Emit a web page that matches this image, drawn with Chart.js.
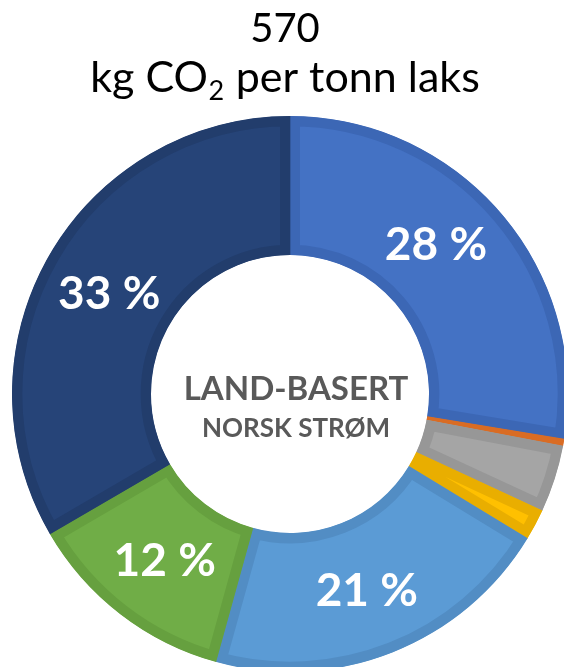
<!DOCTYPE html>
<html>
<head>
<meta charset="utf-8">
<script src="https://cdn.jsdelivr.net/npm/chart.js@4/dist/chart.umd.min.js"></script>
<style>
  html, body { margin: 0; padding: 0; background: #fff; overflow: hidden; }
  #wrap { width: 564px; height: 667px; position: relative; }
</style>
</head>
<body>
<div id="wrap"><canvas id="myCanvas" width="564" height="667"></canvas></div>
<script>
'use strict';

// shares of the footprint, clockwise from 12 o'clock (percent)
var categories = ['Blå', 'Oransje', 'Grå', 'Gul', 'Lyseblå', 'Grønn', 'Mørkeblå'];
var shares = [27.6, 0.4, 3.9, 1.8, 20.6, 12.3, 33.4];
var fillColors = ['#4472C4', '#ED7D31', '#A5A5A5', '#FFC000', '#5B9BD5', '#70AD47', '#264478'];
var edgeColors = ['#3C67B5', '#D96C24', '#979797', '#E9AE00', '#528DC4', '#66A03F', '#223D6C'];

var titleTop = '570';
var titleUnit = ['kg CO', '2', ' per tonn laks'];
var centerLines = ['LAND-BASERT', 'NORSK STRØM'];

var FONT = 'Lato, "Open Sans", sans-serif';

// show rounded percent on the big slices only
var sliceLabels = shares.map(function (v) {
    return v >= 5 ? Math.round(v) + ' %' : '';
});
// small nudges for label placement (px)
var labelNudge = [[-13, -14], [0, 0], [0, 0], [0, 0], [0, 3], [2, 2], [0, 4]];

var textPlugin = {
    id: 'texts',
    afterDatasetsDraw: function (chart) {
        var ctx = chart.ctx;
        var meta = chart.getDatasetMeta(0);
        ctx.save();
        ctx.fillStyle = '#fff';
        ctx.font = 'bold 46px ' + FONT;
        ctx.textAlign = 'center';
        ctx.textBaseline = 'middle';
        meta.data.forEach(function (arc, i) {
            if (!sliceLabels[i]) return;
            var p = arc.tooltipPosition(true);
            ctx.fillText(sliceLabels[i], p.x + labelNudge[i][0], p.y + labelNudge[i][1]);
        });

        // centre text
        var cx = (chart.chartArea.left + chart.chartArea.right) / 2 + 6;
        ctx.fillStyle = '#595959';
        ctx.textBaseline = 'alphabetic';
        ctx.font = 'bold 33px ' + FONT;
        ctx.fillText(centerLines[0], cx, 400);
        ctx.font = 'bold 26px ' + FONT;
        ctx.fillText(centerLines[1], cx, 437);

        // title
        var tx = 285;
        ctx.fillStyle = '#000';
        ctx.font = '40px ' + FONT;
        ctx.fillText(titleTop, tx, 42);

        var big = '43px ' + FONT, small = '27px ' + FONT;
        ctx.font = big;
        var w0 = ctx.measureText(titleUnit[0]).width;
        var w2 = ctx.measureText(titleUnit[2]).width;
        ctx.font = small;
        var w1 = ctx.measureText(titleUnit[1]).width + 1;
        var x = tx - (w0 + w1 + w2) / 2;
        ctx.textAlign = 'left';
        ctx.font = big;
        ctx.fillText(titleUnit[0], x, 92);
        ctx.font = small;
        ctx.fillText(titleUnit[1], x + w0 + 0.5, 100);
        ctx.font = big;
        ctx.fillText(titleUnit[2], x + w0 + w1, 92);
        ctx.restore();
    }
};

var ctx = document.getElementById('myCanvas').getContext('2d');
var myChart = new Chart(ctx, {
    type: 'doughnut',
    data: {
        labels: categories,
        datasets: [{
            data: shares,
            backgroundColor: fillColors,
            borderColor: edgeColors,
            borderWidth: 10,
            borderAlign: 'inner',
            hoverBorderWidth: 10,
            radius: 278,
            clip: false
        }]
    },
    options: {
        responsive: false,
        animation: false,
        cutout: '50%',
        layout: { padding: { left: 16, right: 0, top: 121, bottom: 0 } },
        plugins: {
            legend: { display: false },
            tooltip: { enabled: false },
            title: { display: false }
        },
        events: []
    },
    plugins: [textPlugin]
});
</script>
</body>
</html>
